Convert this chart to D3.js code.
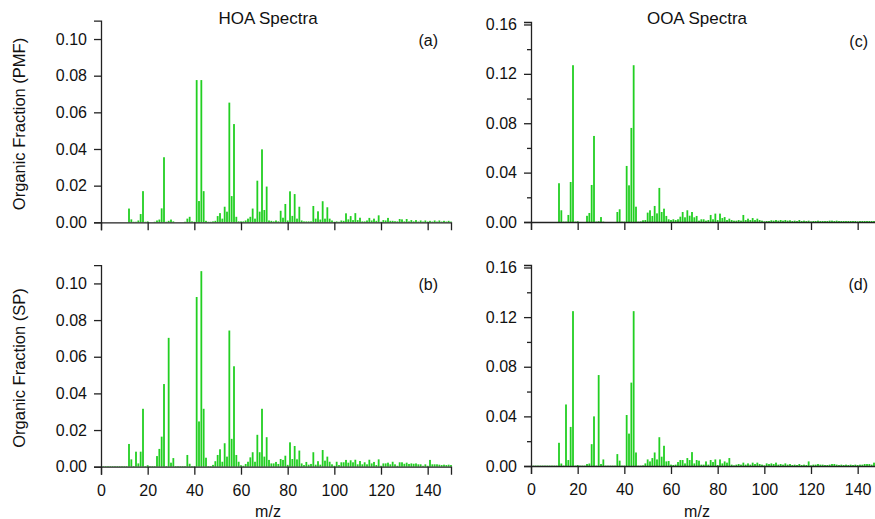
<!DOCTYPE html>
<html><head><meta charset="utf-8">
<script src="https://cdn.jsdelivr.net/npm/d3@7/dist/d3.min.js"></script>
<style>body{margin:0;background:#fff}svg{display:block}text{font-family:Arial,"Liberation Sans",sans-serif;fill:#111}</style>
</head><body><svg id="c" width="875" height="519"></svg>
<script>
const mz = d3.range(1, 151);
const hoaPMF = [
0,0,0,0,0,0,0,0,0,0,
0,0.0075,0.0016,0.0003,0.0003,0.001,0.0045,0.017,0.0003,0.0005,
0,0,0.0003,0.001,0.0015,0.0076,0.0355,0.0003,0.0008,0.0015,
0.0005,0,0,0,0,0.0003,0.002,0.003,0.0005,0.0003,
0.0776,0.0116,0.0776,0.017,0.0008,0.0003,0.0003,0.0005,0.0008,0.0034,
0.005,0.002,0.0085,0.0058,0.0653,0.0143,0.0536,0.003,0.0005,0.0005,
0.0005,0.001,0.002,0.003,0.0075,0.002,0.0227,0.0058,0.0398,0.0067,
0.0195,0.001,0.0008,0.0005,0.001,0.0005,0.0063,0.0025,0.01,0.001,
0.0169,0.0035,0.0154,0.002,0.0085,0.001,0.0005,0.0005,0.0005,0.0005,
0.0089,0.002,0.006,0.0015,0.0115,0.002,0.0082,0.002,0.001,0.0003,
0.0005,0.0003,0.001,0.0008,0.0049,0.0016,0.0034,0.0012,0.005,0.0012,
0.0025,0.0005,0.0005,0.001,0.0024,0.001,0.002,0.0008,0.0038,0.0003,
0.0012,0.001,0.0024,0.0008,0.0008,0.0006,0.0005,0.0018,0.0016,0.0005,
0.0018,0.0005,0.0012,0.0005,0.0012,0.0004,0.001,0.0004,0.001,0.0004,
0.0008,0.0004,0.001,0.0004,0.001,0.0004,0.0008,0.0004,0.0008,0.0004];
const hoaSP = [
0.0003,0.0003,0.0003,0.0003,0.0003,0.0003,0.0003,0.0003,0.0003,0.0003,
0.0003,0.0124,0.004,0.0003,0.0082,0.0018,0.0082,0.0316,0.0003,0.0008,
0.0003,0.0003,0.0003,0.0058,0.0097,0.0164,0.0451,0.0003,0.0703,0.0022,
0.0047,0.0003,0.0003,0.0003,0.0003,0.0003,0.0064,0.0016,0.0003,0.0003,
0.0926,0.0247,0.1067,0.0316,0.0049,0.0003,0.0003,0.001,0.003,0.0064,
0.0095,0.0027,0.0128,0.0055,0.0743,0.0152,0.0548,0.0064,0.0027,0.0008,
0.0005,0.0015,0.0027,0.0051,0.0079,0.0027,0.0174,0.0079,0.0316,0.0055,
0.0161,0.0037,0.0018,0.0018,0.0026,0.0015,0.0042,0.0037,0.006,0.001,
0.0133,0.0042,0.0113,0.004,0.0088,0.0018,0.0009,0.0026,0.0011,0.0015,
0.0079,0.0011,0.003,0.0011,0.0091,0.0033,0.0055,0.0027,0.0013,0.0005,
0.0027,0.0009,0.0024,0.0024,0.0037,0.0022,0.0035,0.0024,0.0038,0.0013,
0.0031,0.0013,0.0024,0.0013,0.0038,0.0018,0.0026,0.0009,0.004,0.0005,
0.0018,0.0018,0.0022,0.0013,0.0027,0.0013,0.0005,0.0024,0.0024,0.0016,
0.0022,0.0015,0.0018,0.0016,0.0018,0.0013,0.0013,0.0005,0.0013,0.0005,
0.0037,0.0013,0.0013,0.0013,0.0011,0.0009,0.0011,0.0009,0.0011,0.0009];
const ooaPMF = [
0,0,0,0,0,0,0,0,0,0,
0,0.0314,0.0095,0.0003,0.0003,0.0057,0.0324,0.127,0.0003,0.0006,
0,0,0,0.005,0.0073,0.03,0.0697,0.0003,0.0006,0.004,
0.0003,0,0,0,0,0,0.0081,0.0103,0.0003,0.0003,
0.0454,0.0297,0.0762,0.127,0.0124,0.0003,0.0005,0.0014,0.0016,0.0076,
0.0095,0.0049,0.013,0.007,0.0276,0.0081,0.0108,0.0049,0.0022,0.0016,
0.0022,0.0016,0.0022,0.0043,0.0081,0.0038,0.0095,0.0051,0.0081,0.0038,
0.0049,0.0011,0.0022,0.0022,0.0011,0.0016,0.0057,0.0022,0.0068,0.0016,
0.0068,0.0032,0.004,0.0016,0.0027,0.0016,0.0011,0.0011,0.0016,0.0011,
0.0057,0.0016,0.0027,0.0016,0.0032,0.0016,0.0027,0.0016,0.0011,0.0005,
0.0008,0.0008,0.0014,0.0011,0.0016,0.0011,0.0016,0.0011,0.0016,0.0011,
0.0014,0.0008,0.0011,0.0008,0.0016,0.0008,0.0011,0.0008,0.0011,0.0005,
0.0008,0.0008,0.0011,0.0008,0.0008,0.0008,0.0008,0.0011,0.0011,0.0008,
0.0011,0.0008,0.0008,0.0008,0.0008,0.0008,0.0008,0.0008,0.0008,0.0005,
0.0008,0.0008,0.0008,0.0008,0.0008,0.0008,0.0008,0.0008,0.0008,0.0008];
const ooaSP = [
0.0003,0.0003,0.0003,0.0003,0.0003,0.0003,0.0003,0.0003,0.0003,0.0003,
0.0003,0.0187,0.002,0.0003,0.0496,0.0048,0.0315,0.1248,0.0003,0.0008,
0.0003,0.0003,0.0003,0.0016,0.002,0.0176,0.04,0.0003,0.0733,0.0016,
0.0053,0.0003,0.0003,0.0003,0.0003,0.0003,0.0096,0.0043,0.0003,0.0003,
0.0411,0.0261,0.0672,0.1248,0.0109,0.0003,0.0003,0.0005,0.0021,0.0053,
0.0037,0.0064,0.0109,0.0053,0.0232,0.0075,0.0163,0.0037,0.004,0.0011,
0.0008,0.0011,0.0032,0.0048,0.0048,0.0021,0.0064,0.0048,0.0112,0.0021,
0.0048,0.0043,0.0011,0.0011,0.0037,0.0011,0.0048,0.0032,0.0053,0.0008,
0.0053,0.0021,0.0037,0.0027,0.0064,0.0011,0.0005,0.0011,0.0016,0.0011,
0.0027,0.0011,0.0021,0.0011,0.0027,0.0016,0.0027,0.0016,0.0011,0.0005,
0.0021,0.0016,0.0021,0.0016,0.0027,0.0011,0.0016,0.0011,0.0021,0.0011,
0.0016,0.0008,0.0011,0.0008,0.0016,0.0008,0.0011,0.0008,0.0037,0.0005,
0.0011,0.0011,0.0016,0.0011,0.0011,0.0008,0.0008,0.0011,0.0016,0.0016,
0.0011,0.0008,0.0011,0.0008,0.0011,0.0008,0.0011,0.0008,0.0011,0.0008,
0.0011,0.0011,0.0016,0.0016,0.0016,0.0011,0.0027,0.0011,0.0016,0.0011];
const xTicks = [0,20,40,60,80,100,120,140];
const hoaYTicks = [0,0.02,0.04,0.06,0.08,0.10];
const ooaYTicks = [0,0.04,0.08,0.12,0.16];
const ooaYMinor = [0.02,0.06,0.10,0.14];
const titles = ["HOA Spectra","OOA Spectra"];
const yLabels = ["Organic Fraction (PMF)","Organic Fraction (SP)"];
const panelTags = ["(a)","(b)","(c)","(d)"];

const svg = d3.select("#c");
const green = "#22cf22";
const panels = [
  {vals:hoaPMF, x0:101, yb:222.3, ymax:0.11, h:201.6, yt:hoaYTicks, minor:[], tag:panelTags[0], showX:false},
  {vals:hoaSP,  x0:101, yb:466.7, ymax:0.11, h:201.6, yt:hoaYTicks, minor:[], tag:panelTags[1], showX:true},
  {vals:ooaPMF, x0:531, yb:222,   ymax:0.162, h:200, yt:ooaYTicks, minor:ooaYMinor, tag:panelTags[2], showX:false},
  {vals:ooaSP,  x0:531, yb:466,   ymax:0.162, h:201, yt:ooaYTicks, minor:ooaYMinor, tag:panelTags[3], showX:true}
];
const font = "Arial, 'Liberation Sans', sans-serif";
panels.forEach(p => {
  const x = d3.scaleLinear().domain([0,150]).range([p.x0, p.x0+350]);
  const y = d3.scaleLinear().domain([0,p.ymax]).range([p.yb, p.yb-p.h]);
  const g = svg.append("g");
  g.selectAll("rect").data(mz).join("rect")
    .attr("x", d => x(d)-0.9).attr("width", 1.8)
    .attr("y", (d,i) => y(p.vals[i])).attr("height", (d,i) => y(0)-y(p.vals[i]))
    .attr("fill", green);
  const xa = d3.axisBottom(x).tickValues(xTicks).tickSize(8).tickPadding(10).tickFormat(p.showX ? d3.format("d") : "");
  g.append("g").attr("transform",`translate(0,${p.yb})`).call(xa);
  const ya = d3.axisLeft(y).tickValues(p.yt).tickSize(7).tickPadding(7).tickFormat(d3.format(".2f"));
  g.append("g").attr("transform",`translate(${p.x0},0)`).call(ya);
  if (p.minor.length) {
    g.append("g").attr("transform",`translate(${p.x0},0)`).call(d3.axisLeft(y).tickValues(p.minor).tickSize(4).tickFormat(""))
      .select(".domain").remove();
  }
  g.selectAll(".domain").attr("stroke","#222").attr("stroke-width",1.3);
  g.selectAll(".tick line").attr("stroke","#222").attr("stroke-width",1.3);
  g.selectAll(".tick text").attr("font-size",16).attr("fill","#111").attr("font-family",font);
  g.append("text").attr("x", p.x0+337).attr("y", p.yb-p.h+25).attr("text-anchor","end").attr("font-size",16).text(p.tag);
});
svg.append("text").attr("x",268).attr("y",24).attr("text-anchor","middle").attr("font-size",17).text(titles[0]);
svg.append("text").attr("x",697).attr("y",24).attr("text-anchor","middle").attr("font-size",17).text(titles[1]);
svg.append("text").attr("transform","translate(25,124) rotate(-90)").attr("text-anchor","middle").attr("font-size",16.5).text(yLabels[0]);
svg.append("text").attr("transform","translate(25,368) rotate(-90)").attr("text-anchor","middle").attr("font-size",16.5).text(yLabels[1]);
svg.append("text").attr("x",268).attr("y",517).attr("text-anchor","middle").attr("font-size",16).text("m/z");
svg.append("text").attr("x",697).attr("y",517).attr("text-anchor","middle").attr("font-size",16).text("m/z");
</script></body></html>
